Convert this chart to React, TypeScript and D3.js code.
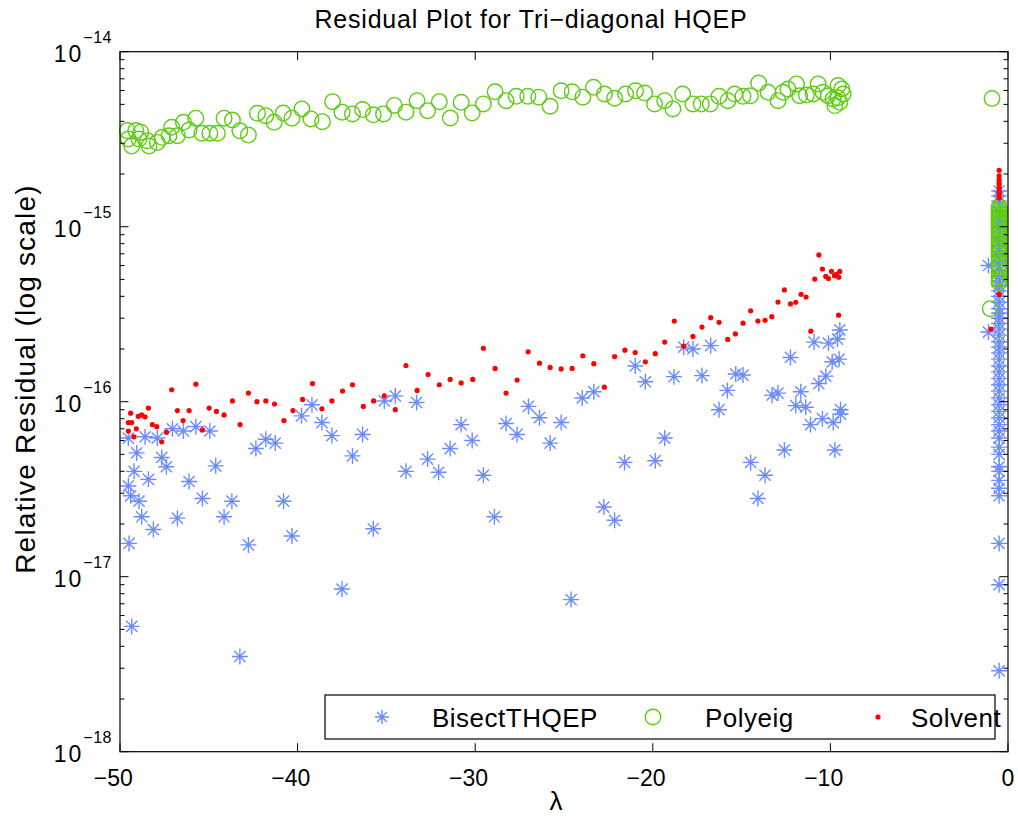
import React from 'react';
import * as d3 from 'd3';

const xTickValues = [-50, -40, -30, -20, -10, 0];
const yDecadeExponents = [-14, -15, -16, -17, -18];
const titleText = 'Residual Plot for Tri\u2212diagonal HQEP';
const xLabelText = '\u03bb';
const yLabelText = 'Relative Residual (log scale)';
const seriesNames = ['BisectTHQEP', 'Polyeig', 'Solvent'];

// [lambda, relative residual]
const bisectPoints: [number, number][] = [
  [-49.53, 6.2e-17], [-49.06, 5.1e-17], [-49.21, 4.0e-17], [-49.53, 3.3e-17], [-49.4, 2.9e-17],
  [-48.93, 2.7e-17], [-48.78, 2.2e-17], [-48.4, 3.6e-17], [-48.59, 6.3e-17], [-48.12, 1.86e-17],
  [-47.9, 6.2e-17], [-47.65, 4.8e-17], [-47.39, 4.25e-17], [-47.05, 7.0e-17], [-46.43, 6.8e-17],
  [-46.11, 3.5e-17], [-45.73, 7.2e-17], [-45.36, 2.8e-17], [-44.94, 6.8e-17], [-44.61, 4.3e-17],
  [-44.14, 2.2e-17], [-43.7, 2.7e-17], [-46.77, 2.16e-17], [-42.35, 5.4e-17], [-41.79, 6.1e-17],
  [-41.26, 5.8e-17], [-40.79, 2.7e-17], [-40.32, 1.71e-17], [-39.78, 8.3e-17], [-39.19, 9.6e-17],
  [-38.63, 7.6e-17], [-38.07, 6.4e-17], [-36.91, 4.9e-17], [-36.34, 6.5e-17], [-35.74, 1.88e-17],
  [-35.12, 1.01e-16], [-49.49, 1.55e-17], [-42.77, 1.52e-17], [-37.5, 8.5e-18], [-49.34, 5.2e-18],
  [-43.25, 3.5e-18], [-34.5, 1.08e-16], [-33.3, 9.9e-17], [-33.9, 4.0e-17], [-32.68, 4.7e-17],
  [-32.06, 3.95e-17], [-31.41, 5.4e-17], [-30.79, 7.4e-17], [-30.17, 6.0e-17], [-29.54, 3.8e-17],
  [-28.92, 2.2e-17], [-28.26, 7.5e-17], [-27.64, 6.5e-17], [-27.0, 9.4e-17], [-26.38, 8.1e-17],
  [-25.78, 5.8e-17], [-25.16, 7.6e-17], [-23.97, 1.05e-16], [-23.32, 1.14e-16], [-22.76, 2.5e-17],
  [-22.15, 2.1e-17], [-21.59, 4.5e-17], [-20.99, 1.6e-16], [-20.42, 1.3e-16], [-19.86, 4.6e-17],
  [-19.33, 6.2e-17], [-18.81, 1.39e-16], [-18.26, 2.05e-16], [-17.74, 2.0e-16], [-17.23, 1.41e-16],
  [-16.74, 2.09e-16], [-16.27, 9.0e-17], [-15.8, 1.16e-16], [-15.33, 1.44e-16], [-14.92, 1.42e-16],
  [-14.49, 4.5e-17], [-13.68, 3.8e-17], [-14.08, 2.8e-17], [-13.29, 1.09e-16], [-12.95, 1.12e-16],
  [-12.59, 5.3e-17], [-12.25, 1.79e-16], [-11.95, 9.5e-17], [-11.67, 1.14e-16], [-11.39, 9.3e-17],
  [-11.12, 7.4e-17], [-10.92, 2.19e-16], [-10.65, 1.27e-16], [-10.45, 8.0e-17], [-10.26, 1.4e-16],
  [-10.11, 2.16e-16], [-9.9, 1.69e-16], [-9.84, 7.6e-17], [-9.75, 5.3e-17], [-9.6, 2.28e-16],
  [-9.51, 1.75e-16], [-9.47, 2.57e-16], [-9.43, 9.0e-17], [-9.43, 8.5e-17], [-24.6, 7.4e-18],
  [-1.1, 6.0e-16], [-1.1, 2.5e-16],
];
const bisectNearZeroLambda = -0.5;
const bisectNearZeroResid = [
  1.6e-15, 1.5e-15, 1.4e-15, 1.3e-15, 1.22e-15, 1.15e-15, 1.08e-15, 1.0e-15, 9.4e-16, 8.8e-16,
  8.2e-16, 7.7e-16, 7.2e-16, 6.8e-16, 6.4e-16, 6.0e-16, 5.6e-16, 5.2e-16, 4.9e-16, 4.6e-16,
  4.3e-16, 4.0e-16, 3.7e-16, 3.4e-16, 3.2e-16, 3.0e-16, 2.8e-16, 2.6e-16, 2.4e-16, 2.2e-16,
  2.05e-16, 1.9e-16, 1.75e-16, 1.6e-16, 1.48e-16, 1.36e-16, 1.25e-16, 1.15e-16, 1.05e-16, 9.6e-17,
  8.8e-17, 8.1e-17, 7.4e-17, 6.8e-17, 6.2e-17, 5.5e-17, 5.0e-17, 4.25e-17, 4.0e-17, 3.55e-17,
  3.2e-17, 2.9e-17, 1.55e-17, 9e-18, 2.9e-18,
];

const polyeigPoints: [number, number][] = [
  [-49.59, 3.54e-15], [-49.11, 3.54e-15], [-49.53, 3.17e-15], [-49.34, 2.89e-15], [-48.93, 3.17e-15],
  [-48.83, 3.47e-15], [-48.46, 3.1e-15], [-48.37, 2.89e-15], [-47.9, 3.03e-15], [-47.62, 3.24e-15],
  [-47.24, 3.31e-15], [-47.09, 3.7e-15], [-46.77, 3.31e-15], [-46.43, 3.95e-15], [-46.11, 3.57e-15],
  [-45.73, 4.17e-15], [-45.39, 3.42e-15], [-44.94, 3.42e-15], [-44.52, 3.42e-15], [-44.14, 4.17e-15],
  [-43.67, 4.07e-15], [-43.25, 3.53e-15], [-42.77, 3.34e-15], [-42.26, 4.45e-15], [-41.79, 4.31e-15],
  [-41.32, 3.95e-15], [-40.81, 4.46e-15], [-40.32, 4.17e-15], [-39.76, 4.71e-15], [-39.25, 4.13e-15],
  [-38.6, 3.98e-15], [-38.03, 5.18e-15], [-37.5, 4.51e-15], [-36.91, 4.41e-15], [-36.34, 4.67e-15],
  [-35.74, 4.36e-15], [-35.16, 4.41e-15], [-34.55, 4.93e-15], [-33.9, 4.51e-15], [-33.27, 5.25e-15],
  [-32.68, 4.6e-15], [-32.02, 5.18e-15], [-31.4, 4.18e-15], [-30.79, 5.14e-15], [-30.17, 4.47e-15],
  [-29.54, 5.03e-15], [-28.88, 5.9e-15], [-28.26, 5.25e-15], [-27.69, 5.56e-15], [-27.04, 5.56e-15],
  [-26.42, 5.5e-15], [-25.78, 4.88e-15], [-25.16, 5.98e-15], [-24.54, 5.9e-15], [-23.94, 5.5e-15],
  [-23.34, 6.26e-15], [-22.72, 5.73e-15], [-22.15, 5.42e-15], [-21.53, 5.73e-15], [-20.97, 5.98e-15],
  [-20.46, 5.8e-15], [-19.9, 5.03e-15], [-19.33, 5.25e-15], [-18.87, 4.71e-15], [-18.32, 5.73e-15],
  [-17.74, 5.03e-15], [-17.27, 5.03e-15], [-16.76, 5.03e-15], [-16.27, 5.56e-15], [-15.77, 5.25e-15],
  [-15.39, 5.73e-15], [-14.92, 5.56e-15], [-14.5, 5.6e-15], [-14.04, 6.62e-15], [-13.51, 5.86e-15],
  [-12.95, 5.25e-15], [-12.67, 5.86e-15], [-12.39, 6.12e-15], [-11.91, 6.54e-15], [-11.73, 5.6e-15],
  [-11.35, 5.65e-15], [-10.97, 5.73e-15], [-10.69, 6.54e-15], [-10.41, 5.86e-15], [-10.13, 5.6e-15],
  [-9.85, 5.37e-15], [-9.57, 6.4e-15], [-9.47, 5.14e-15], [-9.75, 4.92e-15], [-9.28, 5.73e-15],
  [-9.36, 6.12e-15], [-9.57, 5.45e-15],
  [-0.9, 5.4e-15], [-1.0, 3.4e-16],
];
const polyeigNearZeroLambda = -0.5;
const polyeigNearZeroResid = [
  1.3e-15, 1.26e-15, 1.22e-15, 1.18e-15, 1.15e-15, 1.12e-15, 1.09e-15, 1.06e-15, 1.03e-15, 1.0e-15,
  9.7e-16, 9.4e-16, 9.1e-16, 8.8e-16, 8.5e-16, 8.2e-16, 7.9e-16, 7.6e-16, 7.3e-16, 7.0e-16,
  6.7e-16, 6.4e-16, 6.1e-16, 5.8e-16, 5.5e-16, 5.2e-16, 5.0e-16, 4.8e-16,
];

const solventPoints: [number, number][] = [
  [-49.53, 6.8e-17], [-49.53, 7.6e-17], [-49.34, 7.6e-17], [-49.4, 8.6e-17], [-49.21, 6.3e-17],
  [-49.08, 7.0e-17], [-48.97, 8.25e-17], [-48.78, 8.4e-17], [-48.59, 8.2e-17], [-48.4, 9.2e-17],
  [-48.18, 7.4e-17], [-47.93, 7.2e-17], [-47.65, 5.9e-17], [-47.39, 6.7e-17], [-47.09, 1.17e-16],
  [-46.77, 8.9e-17], [-46.45, 7.8e-17], [-46.11, 8.9e-17], [-45.73, 1.26e-16], [-45.36, 6.9e-17],
  [-44.98, 9.2e-17], [-44.57, 8.8e-17], [-44.14, 8.4e-17], [-43.67, 1.01e-16], [-43.24, 7.4e-17],
  [-42.77, 1.12e-16], [-42.29, 1.0e-16], [-41.79, 1.01e-16], [-41.3, 9.7e-17], [-40.77, 7.8e-17],
  [-40.26, 8.9e-17], [-39.72, 1.03e-16], [-39.16, 1.27e-16], [-38.63, 9.1e-17], [-38.07, 1.01e-16],
  [-37.47, 1.15e-16], [-36.91, 1.25e-16], [-36.3, 9.4e-17], [-35.72, 1.01e-16], [-35.12, 1.08e-16],
  [-34.5, 9.0e-17], [-33.9, 1.61e-16], [-33.27, 1.16e-16], [-32.65, 1.43e-16], [-32.02, 1.25e-16],
  [-31.41, 1.34e-16], [-30.79, 1.28e-16], [-30.14, 1.34e-16], [-29.54, 2.02e-16], [-28.88, 1.55e-16],
  [-28.26, 1.12e-16], [-27.64, 1.33e-16], [-27.02, 1.93e-16], [-26.38, 1.66e-16], [-25.78, 1.57e-16],
  [-25.16, 1.54e-16], [-24.54, 1.55e-16], [-23.94, 1.83e-16], [-23.32, 1.65e-16], [-22.73, 1.21e-16],
  [-22.15, 1.81e-16], [-21.57, 1.97e-16], [-20.99, 1.91e-16], [-20.42, 1.69e-16], [-19.86, 1.88e-16],
  [-19.33, 2.19e-16], [-18.79, 2.89e-16], [-18.26, 2.08e-16], [-17.74, 2.36e-16], [-17.23, 2.67e-16],
  [-16.74, 3.02e-16], [-16.27, 2.84e-16], [-15.78, 2.27e-16], [-15.35, 2.44e-16], [-14.92, 2.81e-16],
  [-14.49, 3.31e-16], [-14.08, 2.89e-16], [-13.68, 2.92e-16], [-13.3, 3.06e-16], [-12.95, 3.71e-16],
  [-12.59, 4.35e-16], [-12.25, 3.62e-16], [-11.95, 3.7e-16], [-11.65, 4.11e-16], [-11.37, 3.96e-16],
  [-11.1, 2.53e-16], [-10.88, 5.02e-16], [-10.65, 6.9e-16], [-10.45, 5.73e-16], [-10.26, 5.2e-16],
  [-10.11, 5.05e-16], [-9.94, 5.56e-16], [-9.77, 5.25e-16], [-9.66, 5.35e-16], [-9.53, 5.15e-16],
  [-9.47, 5.55e-16], [-9.54, 3.12e-16],
  [-0.5, 4.1e-16], [-0.96, 2.6e-16],
];
const solventNearZeroLambda = -0.5;
const solventNearZeroResid = [
  2.1e-15, 1.95e-15, 1.85e-15, 1.78e-15, 1.72e-15, 1.66e-15, 1.6e-15, 1.55e-15, 1.5e-15, 1.46e-15,
];

const BLUE = '#6b8cff';
const GREEN = '#5fcc14';
const RED = '#ff0000';
const FONT = '"Liberation Sans", Arial, Helvetica, sans-serif';

function asteriskPath(cx: number, cy: number, r: number) {
  const a = r * 0.7;
  return `M${cx - r},${cy}L${cx + r},${cy}M${cx},${cy - r}L${cx},${cy + r}` +
    `M${cx - a},${cy - a}L${cx + a},${cy + a}M${cx - a},${cy + a}L${cx + a},${cy - a}`;
}

export default function App() {
  const left = 120, right = 1008, top = 51.7, bottom = 751.7;
  const x = d3.scaleLinear().domain([-50, 0]).range([left, right]);
  const y = d3.scaleLog().domain([1e-18, 1e-14]).range([bottom, top]);

  const bisectAll: [number, number][] = [
    ...bisectPoints,
    ...bisectNearZeroResid.map((r) => [bisectNearZeroLambda, r] as [number, number]),
  ];
  const polyAll: [number, number][] = [
    ...polyeigPoints,
    ...polyeigNearZeroResid.map((r) => [polyeigNearZeroLambda, r] as [number, number]),
  ];
  const solventAll: [number, number][] = [
    ...solventPoints,
    ...solventNearZeroResid.map((r) => [solventNearZeroLambda, r] as [number, number]),
  ];

  const minorTicks: number[] = [];
  for (let e = -18; e < -14; e++) for (let m = 2; m <= 9; m++) minorTicks.push(m * Math.pow(10, e));

  const majorLen = 8.5, minorLen = 4.5;
  const tickFs = 23;
  const halfDigits = (s: string) => (s.replace('\u2212', '').length * 0.556 * tickFs) / 2;

  const legendY = 717;

  return (
    <svg width={1018} height={821} style={{ position: 'absolute', left: 0, top: 0, background: '#fff' }}
      fontFamily={FONT}>
      <rect x={0} y={0} width={1018} height={821} fill="#fff" />
      {/* markers */}
      <g stroke={BLUE} strokeWidth={1.4} fill="none">
        {bisectAll.map((d, i) => (
          <path key={i} d={asteriskPath(x(d[0]), y(d[1]), 8)} />
        ))}
      </g>
      <g stroke={GREEN} strokeWidth={1.4} fill="none">
        {polyAll.map((d, i) => (
          <circle key={i} cx={x(d[0])} cy={y(d[1])} r={7.8} />
        ))}
      </g>
      <g fill={RED}>
        {solventAll.map((d, i) => (
          <circle key={i} cx={x(d[0])} cy={y(d[1])} r={2.6} />
        ))}
      </g>

      {/* axes box */}
      <rect x={left} y={top} width={right - left} height={bottom - top} fill="none" stroke="#000" strokeWidth={1.2} />

      {/* x ticks */}
      {xTickValues.map((v) => {
        const label = v < 0 ? `\u2212${Math.abs(v)}` : `${v}`;
        return (
          <g key={v}>
            <line x1={x(v)} x2={x(v)} y1={bottom} y2={bottom - majorLen} stroke="#000" />
            <line x1={x(v)} x2={x(v)} y1={top} y2={top + majorLen} stroke="#000" />
            <text x={x(v) + halfDigits(label)} y={786} textAnchor="end" fontSize={tickFs} fill="#000">
              {label}
            </text>
          </g>
        );
      })}

      {/* y ticks */}
      {yDecadeExponents.map((e) => {
        const v = Math.pow(10, e);
        return (
          <g key={e}>
            <line x1={left} x2={left + majorLen} y1={y(v)} y2={y(v)} stroke="#000" />
            <line x1={right} x2={right - majorLen} y1={y(v)} y2={y(v)} stroke="#000" />
            <text x={112} y={y(v) + 10.5} textAnchor="end" fill="#000" fontSize={tickFs}>
              <tspan letterSpacing={2}>10</tspan>
              <tspan dy={-19} fontSize={16} letterSpacing={0.5}>{`\u2212${Math.abs(e)}`}</tspan>
            </text>
          </g>
        );
      })}
      {minorTicks.map((v, i) => (
        <g key={i}>
          <line x1={left} x2={left + minorLen} y1={y(v)} y2={y(v)} stroke="#000" />
          <line x1={right} x2={right - minorLen} y1={y(v)} y2={y(v)} stroke="#000" />
        </g>
      ))}

      {/* title and labels */}
      <text x={531} y={28} textAnchor="middle" fontSize={25} letterSpacing={0.8} fill="#000">{titleText}</text>
      <text x={556} y={810} textAnchor="middle" fontSize={26} fill="#000">{xLabelText}</text>
      <text transform="translate(35,379) rotate(-90)" textAnchor="middle" fontSize={28} letterSpacing={1.2} fill="#000">
        {yLabelText}
      </text>

      {/* legend */}
      <rect x={325} y={695} width={670} height={44} fill="#fff" stroke="#000" strokeWidth={1.2} />
      <path d={asteriskPath(382, legendY, 7)} stroke={BLUE} strokeWidth={1.4} fill="none" />
      <text x={432} y={legendY + 9.5} fontSize={26} letterSpacing={0.5} fill="#000">{seriesNames[0]}</text>
      <circle cx={653} cy={legendY} r={7.8} stroke={GREEN} strokeWidth={1.4} fill="none" />
      <text x={705} y={legendY + 9.5} fontSize={26} letterSpacing={0.5} fill="#000">{seriesNames[1]}</text>
      <circle cx={878} cy={legendY} r={2.6} fill={RED} />
      <text x={911} y={legendY + 9.5} fontSize={26} letterSpacing={0.5} fill="#000">{seriesNames[2]}</text>
    </svg>
  );
}
